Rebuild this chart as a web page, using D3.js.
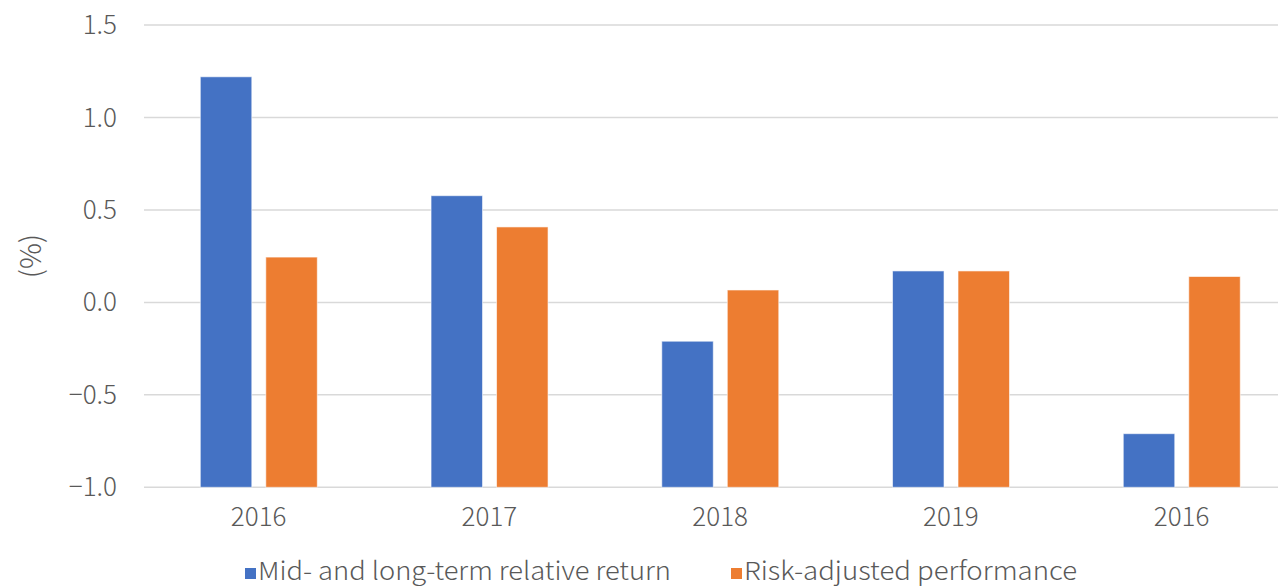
<!DOCTYPE html>
<html>
<head>
<meta charset="utf-8">
<script src="https://cdn.jsdelivr.net/npm/d3@7"></script>
<style>
  body { margin: 0; background: #fff; }
  svg { display: block; }
  text { font-family: "Noto Sans CJK KR", "Noto Sans", sans-serif; fill: #595959; }
</style>
</head>
<body>
<svg width="1278" height="586"></svg>
<script>
var categories = ["2016", "2017", "2018", "2019", "2016"];
var seriesNames = ["Mid- and long-term relative return", "Risk-adjusted performance"];
var midLongReturn = [1.22, 0.577, -0.21, 0.17, -0.71];
var riskAdjusted = [0.245, 0.408, 0.067, 0.17, 0.14];
var yTicks = [-1.0, -0.5, 0.0, 0.5, 1.0, 1.5];
var colors = ["#4472c4", "#ed7d31"];

var svg = d3.select("svg");

var x0 = d3.scaleBand()
    .domain(d3.range(categories.length))
    .range([143.3, 1297])
    .padding(0);

var x1 = d3.scaleBand()
    .domain([0, 1])
    .range([57, 174])
    .paddingInner(0.2137)
    .paddingOuter(0);

var y = d3.scaleLinear()
    .domain([-1, 1.5])
    .range([487.3, 25]);

// gridlines
svg.append("g")
    .selectAll("line")
    .data(yTicks)
    .enter().append("line")
    .attr("x1", 144)
    .attr("x2", 1297)
    .attr("y1", function(d) { return y(d); })
    .attr("y2", function(d) { return y(d); })
    .attr("stroke", "#d9d9d9")
    .attr("stroke-width", 1.5);

// y tick labels
svg.append("g")
    .selectAll("text")
    .data(yTicks)
    .enter().append("text")
    .attr("x", 117)
    .attr("y", function(d) { return y(d); })
    .attr("dy", "0.35em")
    .attr("text-anchor", "end")
    .attr("font-size", 26)
    .attr("font-weight", 300)
    .text(function(d) { return d3.format(".1f")(d).replace("-", "\u2212"); });

// y axis title
svg.append("text")
    .attr("transform", "translate(31,256) rotate(-90)")
    .attr("text-anchor", "middle")
    .attr("dy", "0.35em")
    .attr("font-size", 29)
    .attr("font-weight", 300)
    .text("(%)");

var data = categories.map(function(c, i) {
    return { cat: c, i: i, values: [midLongReturn[i], riskAdjusted[i]] };
});

var groups = svg.append("g")
    .selectAll("g")
    .data(data)
    .enter().append("g")
    .attr("transform", function(d) { return "translate(" + x0(d.i) + ",0)"; });

groups.selectAll("rect")
    .data(function(d) { return d.values.map(function(v, k) { return { k: k, v: v }; }); })
    .enter().append("rect")
    .attr("x", function(d) { return x1(d.k); })
    .attr("width", x1.bandwidth())
    .attr("y", function(d) { return y(d.v); })
    .attr("height", function(d) { return y(-1) - y(d.v); })
    .attr("fill", function(d) { return colors[d.k]; })
    .attr("stroke", "#ffffff")
    .attr("stroke-opacity", 0.6)
    .attr("stroke-width", 1);

// x labels
svg.append("g")
    .selectAll("text")
    .data(data)
    .enter().append("text")
    .attr("x", function(d) { return x0(d.i) + x0.bandwidth() / 2; })
    .attr("y", 526)
    .attr("text-anchor", "middle")
    .attr("font-size", 26)
    .attr("font-weight", 300)
    .text(function(d) { return d.cat; });

// legend
var legendX = [245, 731];
var legendW = [413, 333];
var legend = svg.append("g")
    .selectAll("g")
    .data(seriesNames)
    .enter().append("g")
    .attr("transform", function(d, i) { return "translate(" + legendX[i] + ",568)"; });

legend.append("rect")
    .attr("width", 11)
    .attr("height", 11)
    .attr("y", 0)
    .attr("fill", function(d, i) { return colors[i]; });

legend.append("text")
    .attr("x", 13)
    .attr("y", 12)
    .attr("font-size", 25)
    .attr("font-weight", 300)
    .attr("textLength", function(d, i) { return legendW[i]; })
    .attr("lengthAdjust", "spacingAndGlyphs")
    .text(function(d) { return d; });
</script>
</body>
</html>
